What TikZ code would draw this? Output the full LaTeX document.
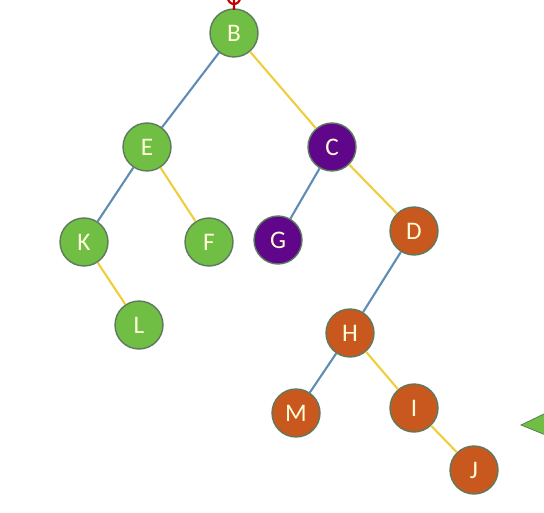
\documentclass[tikz,border=0pt]{standalone}
\usepackage{fontspec}
\setmainfont{Carlito}
\usetikzlibrary{positioning}
\definecolor{leafgreen}{RGB}{112,190,68}
\definecolor{greenrim}{RGB}{80,120,80}
\definecolor{plum}{RGB}{96,6,138}
\definecolor{rust}{RGB}{200,88,30}
\definecolor{leftedge}{RGB}{95,140,180}
\definecolor{rightedge}{RGB}{240,205,60}

\begin{document}
\begin{tikzpicture}[x=0.02cm, y=-0.02cm,
  main/.style = {draw=greenrim!70!gray, line width=0.8pt, circle, minimum size=0.96cm, inner sep=0pt, font=\Large, text=white!85!yellow},
  green/.style = {main, fill=leafgreen},
  purple/.style = {main, fill=plum},
  orange/.style = {main, fill=rust},
  lft/.style = {draw=leftedge, line width=1.2pt},
  rgt/.style = {draw=rightedge, line width=1.2pt}]
	\useasboundingbox (0,0) rectangle (544,513);
	\node[green] (B) at (234, 33){B};
	\node[green] (E) at (147, 147){E};
	\node[purple] (C) at (332, 147){C};
	\node[green] (K) at (84, 242){K};
	\node[green] (F) at (209, 242){F};
	\node[purple] (G) at (278, 240){G};
	\node[orange] (D) at (414, 231){D};
	\node[green] (L) at (139, 325){L};
	\node[orange] (H) at (350, 333){H};
	\node[orange] (M) at (296, 413){M};
	\node[orange] (I) at (414, 408){I};
	\node[orange] (J) at (474, 470){J};
	\draw[lft] (B) -- (E);
	\draw[rgt] (B) -- (C);
	\draw[lft] (E) -- (K);
	\draw[rgt] (E) -- (F);
	\draw[rgt] (K) -- (L);
	\draw[lft] (C) -- (G);
	\draw[rgt] (C) -- (D);
	\draw[lft] (D) -- (H);
	\draw[lft] (H) -- (M);
	\draw[rgt] (H) -- (I);
	\draw[rgt] (I) -- (J);
	% marker above B and shape cut by the right edge
	\draw[red!75!black, line width=1.2pt] (234,-2) circle (6) (234,-8) -- (234,10);
	\fill[leafgreen, draw=greenrim] (521,425) -- (548,412) -- (548,436) -- cycle;
\end{tikzpicture}
\end{document}
